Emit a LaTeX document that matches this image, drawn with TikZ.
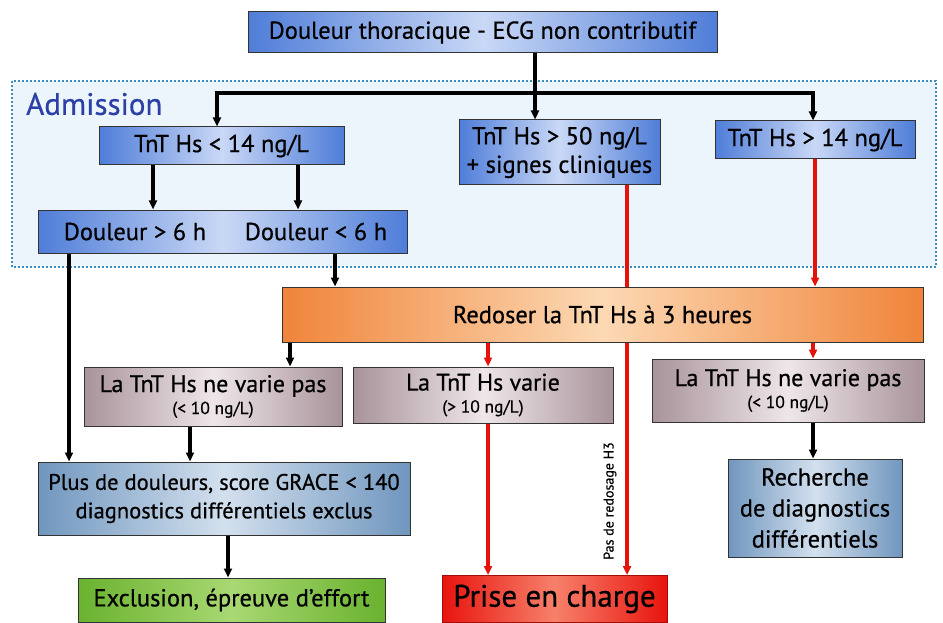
\documentclass[tikz,border=0pt]{standalone}
\usepackage{fontspec}
\setmainfont{PT Sans}
\newfontfamily\heavy{PT Sans}[FakeBold=0.6]
\usetikzlibrary{arrows.meta,shadings}
\definecolor{bblue}{HTML}{4F7DD8}
\definecolor{lblue}{HTML}{C9D8F6}
\definecolor{orng}{HTML}{F0843A}
\definecolor{lorng}{HTML}{FCD9B4}
\definecolor{mauve}{HTML}{A8939A}
\definecolor{lmauve}{HTML}{EEE6E8}
\definecolor{steel}{HTML}{7096BE}
\definecolor{lsteel}{HTML}{D3E0EE}
\definecolor{grn}{HTML}{6AB22F}
\definecolor{lgrn}{HTML}{A8D872}
\definecolor{rd}{HTML}{E8140E}
\definecolor{lrd}{HTML}{F7806A}
\definecolor{admblue}{HTML}{2B3FA6}
\definecolor{frame}{HTML}{3C8CC0}
\definecolor{admfill}{HTML}{EBF5FB}
\definecolor{arrred}{HTML}{E3120B}
\tikzset{
  box/.style={draw=black!80, line width=1pt, inner sep=2pt, align=center, font=\heavy\fontsize{24.5}{28}\selectfont},
  bluebox/.style={box, left color=bblue, right color=bblue, middle color=lblue},
  orbox/.style={box, left color=orng, right color=orng, middle color=lorng},
  mvbox/.style={box, left color=mauve, right color=mauve, middle color=lmauve},
  stbox/.style={box, left color=steel, right color=steel, middle color=lsteel},
  gnbox/.style={box, left color=grn, right color=grn, middle color=lgrn},
  rdbox/.style={box, left color=rd, right color=rd, middle color=lrd, draw=rd!70!black},
  blk/.style={line width=3.2pt, black, -{Triangle[length=9pt,width=8pt]}},
  red/.style={line width=3.2pt, arrred, -{Triangle[length=9pt,width=8pt]}}
}
\newcommand{\subtxt}[1]{{\fontsize{17.5}{19}\selectfont #1}}
\begin{document}
\begin{tikzpicture}[x=1pt,y=-1pt]
\useasboundingbox (0,0) rectangle (943,623);
\fill[white] (0,0) rectangle (943,623);
% admission frame
\draw[fill=admfill, draw=frame, line width=1.4pt, dash pattern=on 2pt off 2pt] (12,81) rectangle (936,267);
\node[anchor=west, text=admblue, font=\heavy\fontsize{31}{34}\selectfont, inner sep=0pt] (adm) at (26,104) {Admission};

% red long line behind Redoser
\coordinate (t50r) at (627,185);
\coordinate (prr) at (627,575);
\draw[red] (t50r) -- (prr);
\node[rotate=90, font=\heavy\fontsize{14}{16}\selectfont, inner sep=0pt] (pas) at (610,501) {Pas de redosage H3};

% nodes
\node[bluebox, minimum width=469pt, minimum height=41pt] (top) at (482.5,32.5) {Douleur thoracique - ECG non contributif};
\node[bluebox, minimum width=245pt, minimum height=38pt] (tlow) at (221.5,146) {TnT Hs < 14 ng/L};
\node[bluebox, minimum width=201pt, minimum height=65pt, font=\heavy\fontsize{24.5}{28.5}\selectfont] (t50) at (559.5,152.5) {TnT Hs > 50 ng/L\\+ signes cliniques};
\node[bluebox, minimum width=200pt, minimum height=38pt] (t14) at (815,140) {TnT Hs > 14 ng/L};
\node[bluebox, minimum width=369pt, minimum height=43pt] (doul) at (222.5,231.5) {};
\node (d6a) at (135,231.5) [font=\heavy\fontsize{24.5}{28}\selectfont] {Douleur > 6 h};
\node (d6b) at (316,231.5) [font=\heavy\fontsize{24.5}{28}\selectfont] {Douleur < 6 h};
\node[orbox, minimum width=641pt, minimum height=55pt] (redo) at (602.5,314.5) {Redoser la TnT Hs à 3 heures};
\node[mvbox, minimum width=258pt, minimum height=59pt, font=\heavy\fontsize{24}{28}\selectfont] (nv1) at (213,396.5) {La TnT Hs ne varie pas\\[-6pt]\subtxt{(< 10 ng/L)}};
\node[mvbox, minimum width=260pt, minimum height=56pt, font=\heavy\fontsize{24}{28}\selectfont] (var) at (483,395) {La TnT Hs varie\\[-6pt]\subtxt{(> 10 ng/L)}};
\node[mvbox, minimum width=272pt, minimum height=63pt, font=\heavy\fontsize{24}{28}\selectfont] (nv2) at (788,390.5) {La TnT Hs ne varie pas\\[-6pt]\subtxt{(< 10 ng/L)}};
\node[stbox, minimum width=174pt, minimum height=98pt, font=\heavy\fontsize{24.5}{31}\selectfont] (rech) at (815,508) {Recherche\\de diagnostics\\différentiels};
\node[stbox, minimum width=372pt, minimum height=73pt, font=\heavy\fontsize{22.5}{28.5}\selectfont] (plus) at (224,498.5) {Plus de douleurs, score GRACE < 140\\diagnostics différentiels exclus};
\node[gnbox, minimum width=307pt, minimum height=44pt] (excl) at (231.5,600) {Exclusion, épreuve d’effort};
\node[rdbox, minimum width=225pt, minimum height=47pt, font=\heavy\fontsize{31}{34}\selectfont] (prise) at (554.5,599) {Prise en charge};

% connectors
\coordinate (hj) at (535,93);
\coordinate (hl) at (217,93);
\coordinate (hr) at (813,93);
\coordinate (c1) at (153,0);
\coordinate (c2) at (298,0);
\coordinate (c3) at (69,0);
\coordinate (c4) at (335,0);
\coordinate (c5) at (815,0);
\coordinate (c6) at (290,0);
\coordinate (c7) at (488,0);
\coordinate (c8) at (813,0);
\coordinate (c9) at (190,0);
\coordinate (c10) at (228,0);
\draw[blk] (top.south -| hj) -- (t50.north -| hj);
\draw[blk] (hj) -- (hl) -- (tlow.north -| hl);
\draw[blk] (hj) -- (hr) -- (t14.north -| hr);
\draw[blk] (tlow.south -| c1) -- (doul.north -| c1);
\draw[blk] (tlow.south -| c2) -- (doul.north -| c2);
\draw[blk] (doul.south -| c3) -- (plus.north -| c3);
\draw[blk] (doul.south -| c4) -- (redo.north -| c4);
\draw[red] (t14.south -| c5) -- (redo.north -| c5);
\draw[blk] (redo.south -| c6) -- (nv1.north -| c6);
\draw[red] (redo.south -| c7) -- (var.north -| c7);
\draw[red] (redo.south -| c8) -- (nv2.north -| c8);
\draw[blk] (nv1.south -| c9) -- (plus.north -| c9);
\draw[red] (var.south -| c7) -- (prise.north -| c7);
\draw[blk] (nv2.south -| c8) -- (rech.north -| c8);
\draw[blk] (plus.south -| c10) -- (excl.north -| c10);
\end{tikzpicture}
\end{document}
